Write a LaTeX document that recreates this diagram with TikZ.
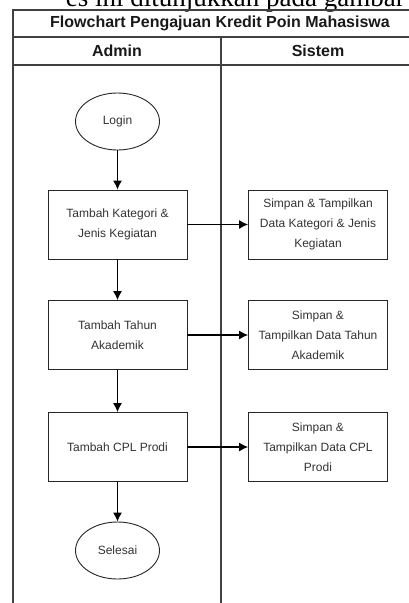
\documentclass[tikz,border=0pt]{standalone}
\usepackage{fontspec}
\setmainfont{Liberation Sans}
\newfontfamily\serifteks{Liberation Serif}
\usepackage{tikz}
\usetikzlibrary{shapes.geometric,arrows.meta}

\begin{document}
\begin{tikzpicture}[x=1pt, y=-1pt, >={Latex[length=9pt,width=9pt]},
	lajur/.style={draw=black!75, line width=1.3pt},
	proses/.style={draw=black!85, line width=0.9pt, rectangle, minimum width=139pt, minimum height=69pt, align=center, font=\fontsize{12}{20}\selectfont, text=black!80},
	terminal/.style={draw=black!85, line width=0.9pt, ellipse, minimum width=84pt, minimum height=57pt, font=\fontsize{12}{14}\selectfont, text=black!80},
	judul/.style={font=\fontsize{16}{18}\selectfont\bfseries, text=black!90},
	alur/.style={->, line width=1.1pt, draw=black}]
	\useasboundingbox (0,0) rectangle (409,603);
	\clip (0,0) rectangle (409,603);
	%\draw [help lines, step=20] (0,0) grid (409,603);
	\node [anchor=base east, inner sep=0pt, font=\serifteks\fontsize{27}{30}\selectfont] (teks) at (405,6.5) {es ini ditunjukkan pada gambar};
	% tabel swimlane
	\draw [lajur] (13,620) -- (13,10) -- (415,10) -- (415,620);
	\draw [lajur] (13,37) -- (415,37);
	\draw [lajur] (13,65) -- (415,65);
	\draw [lajur] (221,37) -- (221,620);
	\node [judul] (judul) at (220,23.5) {Flowchart Pengajuan Kredit Poin Mahasiswa};
	\node [judul] (admin) at (117,51) {Admin};
	\node [judul] (sistem) at (318,51) {Sistem};
	% lajur admin
	\node [terminal] (login) at (117.5,121.5) {Login};
	\node [proses] (kategori) at (117.5,224.5) {Tambah Kategori \&\\Jenis Kegiatan};
	\node [proses] (tahun) at (117.5,335) {Tambah Tahun\\Akademik};
	\node [proses] (cpl) at (117.5,447) {Tambah CPL Prodi};
	\node [terminal] (selesai) at (117.5,550.5) {Selesai};
	% lajur sistem
	\node [proses] (simpankategori) at (318,224.5) {Simpan \& Tampilkan\\Data Kategori \& Jenis\\Kegiatan};
	\node [proses] (simpantahun) at (318,335) {Simpan \&\\Tampilkan Data Tahun\\Akademik};
	\node [proses] (simpancpl) at (318,447) {Simpan \&\\Tampilkan Data CPL\\Prodi};
	% alur
	\draw [alur] (login) -- (kategori);
	\draw [alur] (kategori) -- (tahun);
	\draw [alur] (tahun) -- (cpl);
	\draw [alur] (cpl) -- (selesai);
	\draw [alur] (kategori) -- (simpankategori);
	\draw [alur] (tahun) -- (simpantahun);
	\draw [alur] (cpl) -- (simpancpl);
\end{tikzpicture}
\end{document}
